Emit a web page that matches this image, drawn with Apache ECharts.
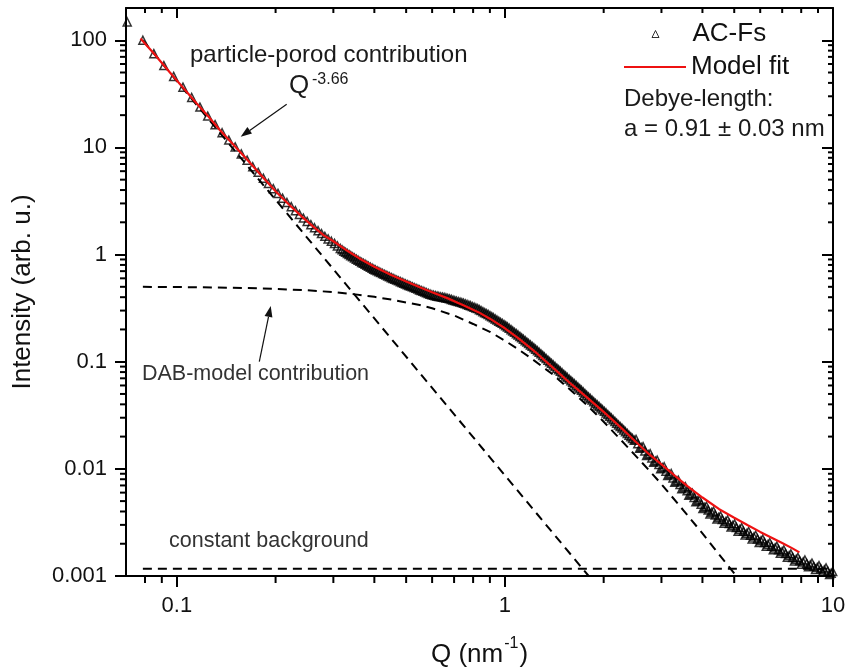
<!DOCTYPE html>
<html><head><meta charset="utf-8">
<script src="https://cdn.jsdelivr.net/npm/echarts@6/dist/echarts.min.js"></script>
<style>html,body{margin:0;padding:0;background:#fff}#c{width:847px;height:669px}</style>
</head><body><div id="c"></div>
<script>
// ---- data ----
// measured points (AC-Fs), main reading grid
const dataQ = [0.0706,0.0788,0.0851,0.0913,0.0978,0.1044,0.1110,0.1176,0.1242,0.1308,0.1374,0.1440,0.1506,0.1572,0.1638,0.1704,0.1770,0.1836,0.1902,0.1968,0.2034,0.2100,0.2166,0.2232,0.2298,0.2364,0.2430,0.2496,0.2562,0.2628,0.2694,0.2760,0.2826,0.2892,0.2958,0.3024,
0.315,0.323,0.331,0.339,0.348,0.357,0.366,0.375,0.384,0.394,0.403,0.413,0.424,0.434,0.445,0.456,0.468,0.480,0.492,0.504,0.516,0.529,0.543,0.556,0.570,0.584,0.599,0.614,0.629,0.645,0.661,0.678,0.695,0.712,0.730,0.748,0.767,0.786,0.806,0.826,0.846,0.868,0.889,0.912,0.934,0.958,0.982,
1.006,1.031,1.057,1.084,1.111,1.139,1.167,1.196,1.226,1.257,1.288,1.320,1.353,1.387,1.422,1.458,1.494,1.531,1.570,1.609,1.649,1.691,1.733,1.776,1.821,1.866,1.913,1.961,2.010,2.060,2.112,2.164,2.219,2.274,2.331,2.389,2.449,
2.510,2.573,2.637,2.703,2.771,2.840,2.911,2.984,3.058,3.135,3.213,3.293,3.376,3.460,3.547,3.635,3.726,3.819,3.915,4.013,4.113,4.216,4.321,4.429,4.540,4.654,4.770,4.889,5.011,5.137,5.265,5.397,5.532,5.670,5.812,5.957,6.106,6.259,6.415,6.576,6.740,6.909,7.081,7.258,7.440,7.626,7.816,8.012,8.212,8.417,8.628,8.843,9.064,9.291,9.523,9.761,9.98];
const dataI = [148,100,75,58,46,36.5,29.2,23.8,19.6,16.3,13.7,11.7,10.1,8.7,7.6,6.6,5.85,5.15,4.6,4.12,3.72,3.36,3.06,2.8,2.57,2.37,2.19,2.04,1.9,1.78,1.67,1.57,1.48,1.40,1.33,1.27,
1.139,1.075,1.022,0.976,0.928,0.884,0.845,0.811,0.778,0.745,0.718,0.692,0.666,0.643,0.620,0.599,0.578,0.558,0.540,0.523,0.508,0.492,0.476,0.461,0.447,0.434,0.421,0.413,0.406,0.400,0.394,0.386,0.376,0.368,0.360,0.352,0.342,0.333,0.322,0.313,0.300,0.287,0.276,0.263,0.251,0.239,0.228,
0.217,0.205,0.1936,0.1827,0.1723,0.162,0.1525,0.1434,0.1349,0.1265,0.1184,0.1107,0.1034,0.0966,0.0902,0.0842,0.0788,0.0737,0.0688,0.0643,0.0601,0.0560,0.0522,0.0486,0.0453,0.0423,0.0395,0.0369,0.0344,0.0321,0.0298,0.0277,0.0257,0.0240,0.0222,0.0206,0.0192,
0.01884,0.01553,0.01614,0.01331,0.01385,0.01151,0.01206,0.01002,0.01046,0.00866,0.00904,0.00749,0.00784,0.00652,0.00683,0.00568,0.00593,0.00492,0.00514,0.00426,0.00448,0.00379,0.00403,0.00341,0.00364,0.00311,0.00334,0.00286,0.00307,0.00262,0.00283,0.00241,0.0026,0.00222,0.0024,0.00205,0.00221,0.0019,0.00205,0.00176,0.0019,0.00163,0.00175,0.0015,0.00161,0.00138,0.00149,0.00129,0.00141,0.00122,0.00132,0.00115,0.00125,0.00109,0.00119,0.00103,0.0011];

// measured points (AC-Fs), readings in between (dense part of the band)
const dataQ2 = [0.3086,0.319,0.327,0.335,0.3435,0.3525,0.3615,0.3705,0.3795,0.389,0.3985,0.408,0.4185,0.429,0.4395,0.4505,0.462,0.474,0.486,0.498,0.510,0.5225,0.536,0.5495,0.563,0.577,0.5915,0.6065,0.6215,0.637,0.653,0.6695,0.6865,0.7035,0.721,0.739,0.7575,0.7765,0.796,0.816,0.836,0.857,0.8785,0.9005,0.923,0.946,0.970,0.994,
1.018,1.044,1.070,1.097,1.125,1.153,1.181,1.211,1.241,1.272,1.304,1.336,1.370,1.404,1.440,1.476,1.512,1.550,1.589,1.629,1.670,1.712,1.754,1.798,1.843,1.889,1.937,1.985,2.035,2.086,2.138,2.191,2.246,2.302,2.360,2.419,2.479,
2.541,2.605,2.670,2.737,2.805,2.875,2.947,3.021,3.096,3.174,3.253,3.334,3.418,3.503,3.591,3.680,3.772,3.867,3.964,4.063,4.164,4.268,4.375,4.484,4.597,4.712,4.829,4.950,5.074,5.201,5.331,5.464,5.601,5.741,5.884,6.031,6.182,6.337,6.495,6.658,6.824,6.994,7.169,7.348,7.532,7.720,7.913,8.111,8.314,8.522,8.735,8.953,9.177,9.406,9.641,9.870];
const dataI2 = [1.203,1.107,1.048,0.999,0.952,0.906,0.864,0.828,0.794,0.761,0.731,0.705,0.679,0.654,0.631,0.609,0.588,0.568,0.549,0.531,0.515,0.500,0.484,0.468,0.454,0.440,0.427,0.417,0.409,0.403,0.397,0.390,0.381,0.372,0.364,0.356,0.347,0.337,0.327,0.317,0.306,0.293,0.281,0.269,0.257,0.245,0.233,0.222,
0.211,0.199,0.188,0.1774,0.1671,0.1572,0.1479,0.1391,0.1306,0.1224,0.1145,0.107,0.0999,0.0933,0.0871,0.0815,0.0762,0.0712,0.0665,0.0622,0.058,0.0541,0.0504,0.0469,0.0438,0.0409,0.0382,0.0356,0.0332,0.0309,0.0287,0.0267,0.0248,0.0231,0.0214,0.0199,0.01847,
0.01711,0.01583,0.01466,0.01358,0.01263,0.01178,0.01099,0.01024,0.00952,0.00885,0.00823,0.00766,0.00715,0.00667,0.00623,0.0058,0.0054,0.00503,0.00468,0.00437,0.00412,0.00391,0.00371,0.00352,0.00336,0.00322,0.00309,0.00296,0.00284,0.00272,0.00261,0.0025,0.0024,0.00231,0.00222,0.00213,0.00205,0.00197,0.0019,0.00183,0.00176,0.00169,0.00162,0.00155,0.00149,0.00143,0.00139,0.00135,0.00131,0.00127,0.00123,0.0012,0.00117,0.00114,0.00111,0.00106];

// model fit (red line)
const fitQ = [0.0775,0.085,0.095,0.105,0.115,0.125,0.135,0.150,0.165,0.180,0.200,0.220,0.240,0.260,0.280,0.300,0.330,0.360,0.400,0.450,0.500,0.550,0.600,0.670,0.750,0.830,0.900,1.0,1.1,1.25,1.4,1.6,1.8,2.0,2.25,2.5,2.75,3.0,3.3,3.6,4.0,4.5,5.0,5.5,6.0,6.5,7.0,7.5,7.9];
const fitI = [104,75.5,50.5,35.5,25.7,19.3,14.6,10.3,7.5,5.55,3.9,2.92,2.27,1.83,1.52,1.33,1.09,0.92,0.77,0.645,0.56,0.495,0.445,0.39,0.335,0.29,0.252,0.205,0.165,0.12,0.088,0.061,0.045,0.034,0.0245,0.018,0.0137,0.011,0.0086,0.0069,0.0054,0.0042,0.0035,0.00298,0.00258,0.00228,0.00203,0.00182,0.00166];

// particle-porod contribution (straight in log-log)
const porodQ = [0.0788, 1.8];
const porodI = [100, 0.001];

// DAB-model contribution
const dabQ = [0.0788,0.12,0.16,0.20,0.25,0.30,0.35,0.40,0.45,0.50,0.55,0.60,0.70,0.80,0.90,1.0,1.1,1.2,1.3,1.4,1.5,1.6,1.8,2.0,2.25,2.5,2.75,3.0,3.5,4.0,4.5,5.0,5.2];
const dabI = [0.50,0.495,0.488,0.478,0.464,0.446,0.425,0.403,0.38,0.357,0.338,0.315,0.27,0.225,0.19,0.157,0.13,0.108,0.09,0.076,0.063,0.053,0.038,0.0275,0.0188,0.0133,0.0097,0.0072,0.0041,0.0025,0.00158,0.00106,0.00092];

// constant background
const bgQ = [0.0788, 10];
const bgI = [0.00117, 0.00117];

const xTickLabels = ['0.1', '1', '10'];
const yTickLabels = ['0.001', '0.01', '0.1', '1', '10', '100'];

// ---- chart ----
const FONT = '"Liberation Sans", Arial, sans-serif';
const zip = (a, b) => a.map((v, i) => [v, b[i]]);
const labelFmt = labels => v => {
  const s = labels.find(l => Math.abs(Math.log10(+l) - Math.log10(v)) < 1e-6);
  return s || '';
};
const minorX = [], minorY = [];
[0.01, 0.1, 1].forEach(d => { for (let m = 2; m <= 9; m++) { const v = +(m * d).toPrecision(3); if (v > 0.07 && v < 10) minorX.push(v); } });
[0.001, 0.01, 0.1, 1, 10, 100].forEach(d => { for (let m = 2; m <= 9; m++) { const v = +(m * d).toPrecision(3); if (v > 0.001 && v < 200) minorY.push(v); } });

const X_MIN = 0.07, X_MAX = 10, Y_MIN = 0.001, Y_MAX = 200;
const lineW = 2;
const axisBase = {
  axisLine: { show: true, lineStyle: { color: '#000', width: lineW } },
  splitLine: { show: false },
  minorTick: { show: false },
};
const dash = { color: '#000', width: 2, type: [9, 6] };

const chart = echarts.init(document.getElementById('c'), null, { renderer: 'canvas' });
chart.setOption({
  animation: false,
  backgroundColor: '#fff',
  grid: { left: 126, right: 14, top: 8, bottom: 93, containLabel: false, outerBoundsMode: 'none' },
  xAxis: [
    Object.assign({}, axisBase, {
      type: 'log', logBase: 10, min: X_MIN, max: X_MAX, position: 'bottom',
      axisTick: { show: true, inside: false, length: 11, lineStyle: { color: '#000', width: lineW } },
      axisLabel: { show: true, margin: 19, fontSize: 22, color: '#111', fontFamily: FONT, showMinLabel: false, formatter: labelFmt(xTickLabels) },
      name: '{a|Q (nm}{s|-1}{a|)}', nameLocation: 'middle', nameGap: 62,
      nameTextStyle: { rich: {
        a: { fontSize: 26, fontFamily: FONT, color: '#111', lineHeight: 30, verticalAlign: 'bottom' },
        s: { fontSize: 16, fontFamily: FONT, color: '#111', lineHeight: 30, verticalAlign: 'top', padding: [-2, 1, 0, 1] }
      } }
    }),
    Object.assign({}, axisBase, {
      type: 'log', logBase: 10, min: X_MIN, max: X_MAX, position: 'top',
      axisTick: { show: true, inside: true, length: 10, lineStyle: { color: '#000', width: lineW } },
      axisLabel: { show: false }
    })
  ],
  yAxis: [
    Object.assign({}, axisBase, {
      type: 'log', logBase: 10, min: Y_MIN, max: Y_MAX, position: 'left',
      axisTick: { show: true, inside: false, length: 11, lineStyle: { color: '#000', width: lineW } },
      axisLabel: { show: true, margin: 19, fontSize: 22, color: '#111', fontFamily: FONT, showMaxLabel: false, formatter: labelFmt(yTickLabels) },
      name: 'Intensity (arb. u.)', nameLocation: 'middle', nameGap: 90,
      nameTextStyle: { fontSize: 26, fontFamily: FONT, color: '#111', lineHeight: 26 }
    }),
    Object.assign({}, axisBase, {
      type: 'log', logBase: 10, min: Y_MIN, max: Y_MAX, position: 'right',
      axisTick: { show: true, inside: true, length: 11, lineStyle: { color: '#000', width: lineW } },
      axisLabel: { show: false }
    })
  ],
  legend: [
    { data: [{ name: 'AC-Fs', icon: 'triangle' }], left: 651.5, top: 21, padding: 0, orient: 'vertical',
      itemWidth: 7, itemHeight: 7,
      itemStyle: { color: 'rgba(255,255,255,0)', borderColor: '#000', borderWidth: 1 },
      textStyle: { fontSize: 26, color: '#111', fontFamily: FONT, lineHeight: 26, padding: [0, 0, 0, 28.5] } },
    { data: [{ name: 'Model fit', icon: 'rect' }], left: 624, top: 54, padding: 0, orient: 'vertical',
      itemWidth: 62, itemHeight: 2,
      itemStyle: { color: '#ee1111', borderWidth: 0 },
      textStyle: { fontSize: 26, color: '#111', fontFamily: FONT, lineHeight: 26 } }
  ],
  series: [
    { name: 'AC-Fs', type: 'scatter', data: zip(dataQ, dataI).concat(zip(dataQ2, dataI2)), symbol: 'triangle', symbolSize: 8,
      itemStyle: { color: 'rgba(255,255,255,0)', borderColor: '#000', borderWidth: 1.5 }, z: 2, silent: true },
    { name: 'Porod', type: 'line', data: zip(porodQ, porodI), symbol: 'none', lineStyle: dash, z: 3, silent: true },
    { name: 'DAB', type: 'line', data: zip(dabQ, dabI), symbol: 'none', lineStyle: dash, z: 3, silent: true },
    { name: 'Background', type: 'line', data: zip(bgQ, bgI), symbol: 'none', lineStyle: dash, z: 3, silent: true },
    { name: 'Model fit', type: 'line', data: zip(fitQ, fitI), symbol: 'none', showSymbol: false,
      lineStyle: { color: '#ee1111', width: 2.2 }, itemStyle: { color: '#ee1111' }, z: 4, silent: true },
    { type: 'custom', silent: true, clip: false, z: 5, data: minorX.map(v => [v, 1]),
      renderItem(params, api) {
        const p = api.coord([api.value(0), 1]);
        const cs = params.coordSys;
        const b = cs.y + cs.height;
        const st = { stroke: '#000', lineWidth: 2 };
        return { type: 'group', children: [
          { type: 'line', shape: { x1: p[0], y1: b, x2: p[0], y2: b + 7 }, style: st },
          { type: 'line', shape: { x1: p[0], y1: cs.y, x2: p[0], y2: cs.y + 5 }, style: st }
        ] };
      } },
    { type: 'custom', silent: true, clip: false, z: 5, data: minorY.map(v => [1, v]),
      renderItem(params, api) {
        const p = api.coord([1, api.value(1)]);
        const cs = params.coordSys;
        const r = cs.x + cs.width;
        const st = { stroke: '#000', lineWidth: 2 };
        return { type: 'group', children: [
          { type: 'line', shape: { x1: cs.x - 6, y1: p[1], x2: cs.x, y2: p[1] }, style: st },
          { type: 'line', shape: { x1: r - 5, y1: p[1], x2: r, y2: p[1] }, style: st }
        ] };
      } }
  ],
  graphic: [
    { type: 'text', x: 190, y: 55, z: 10, style: { text: 'particle-porod contribution', font: '24px ' + FONT, fill: '#1a1a1a', align: 'left', verticalAlign: 'middle', textAlign: 'left', textVerticalAlign: 'middle' } },
    { type: 'text', x: 289, y: 86, z: 10, style: { text: 'Q', font: '26px ' + FONT, fill: '#1a1a1a', align: 'left', verticalAlign: 'middle', textAlign: 'left', textVerticalAlign: 'middle' } },
    { type: 'text', x: 312, y: 80, z: 10, style: { text: '-3.66', font: '16px ' + FONT, fill: '#1a1a1a', align: 'left', verticalAlign: 'middle', textAlign: 'left', textVerticalAlign: 'middle' } },
    { type: 'line', z: 10, shape: { x1: 286.7, y1: 104.3, x2: 249.7, y2: 130.4 }, style: { stroke: '#111', lineWidth: 1.2 } },
    { type: 'polygon', z: 10, shape: { points: [[240.7, 136.7], [252.0, 133.6], [247.4, 127.1]] }, style: { fill: '#111' } },
    { type: 'text', x: 624, y: 99, z: 10, style: { text: 'Debye-length:', font: '24px ' + FONT, fill: '#1a1a1a', align: 'left', verticalAlign: 'middle', textAlign: 'left', textVerticalAlign: 'middle' } },
    { type: 'text', x: 624, y: 129, z: 10, style: { text: 'a = 0.91 \u00b1 0.03 nm', font: '24px ' + FONT, fill: '#1a1a1a', align: 'left', verticalAlign: 'middle', textAlign: 'left', textVerticalAlign: 'middle' } },
    { type: 'text', x: 142, y: 374, z: 10, style: { text: 'DAB-model contribution', font: '21.5px ' + FONT, fill: '#333', align: 'left', verticalAlign: 'middle', textAlign: 'left', textVerticalAlign: 'middle' } },
    { type: 'line', z: 10, shape: { x1: 259.3, y1: 361.7, x2: 268.5, y2: 316.8 }, style: { stroke: '#111', lineWidth: 1.2 } },
    { type: 'polygon', z: 10, shape: { points: [[270.7, 306], [264.6, 316.0], [272.4, 317.6]] }, style: { fill: '#111' } },
    { type: 'text', x: 169, y: 541.5, z: 10, style: { text: 'constant background', font: '21.5px ' + FONT, fill: '#333', align: 'left', verticalAlign: 'middle', textAlign: 'left', textVerticalAlign: 'middle' } }
  ]
});
</script>
</body></html>
